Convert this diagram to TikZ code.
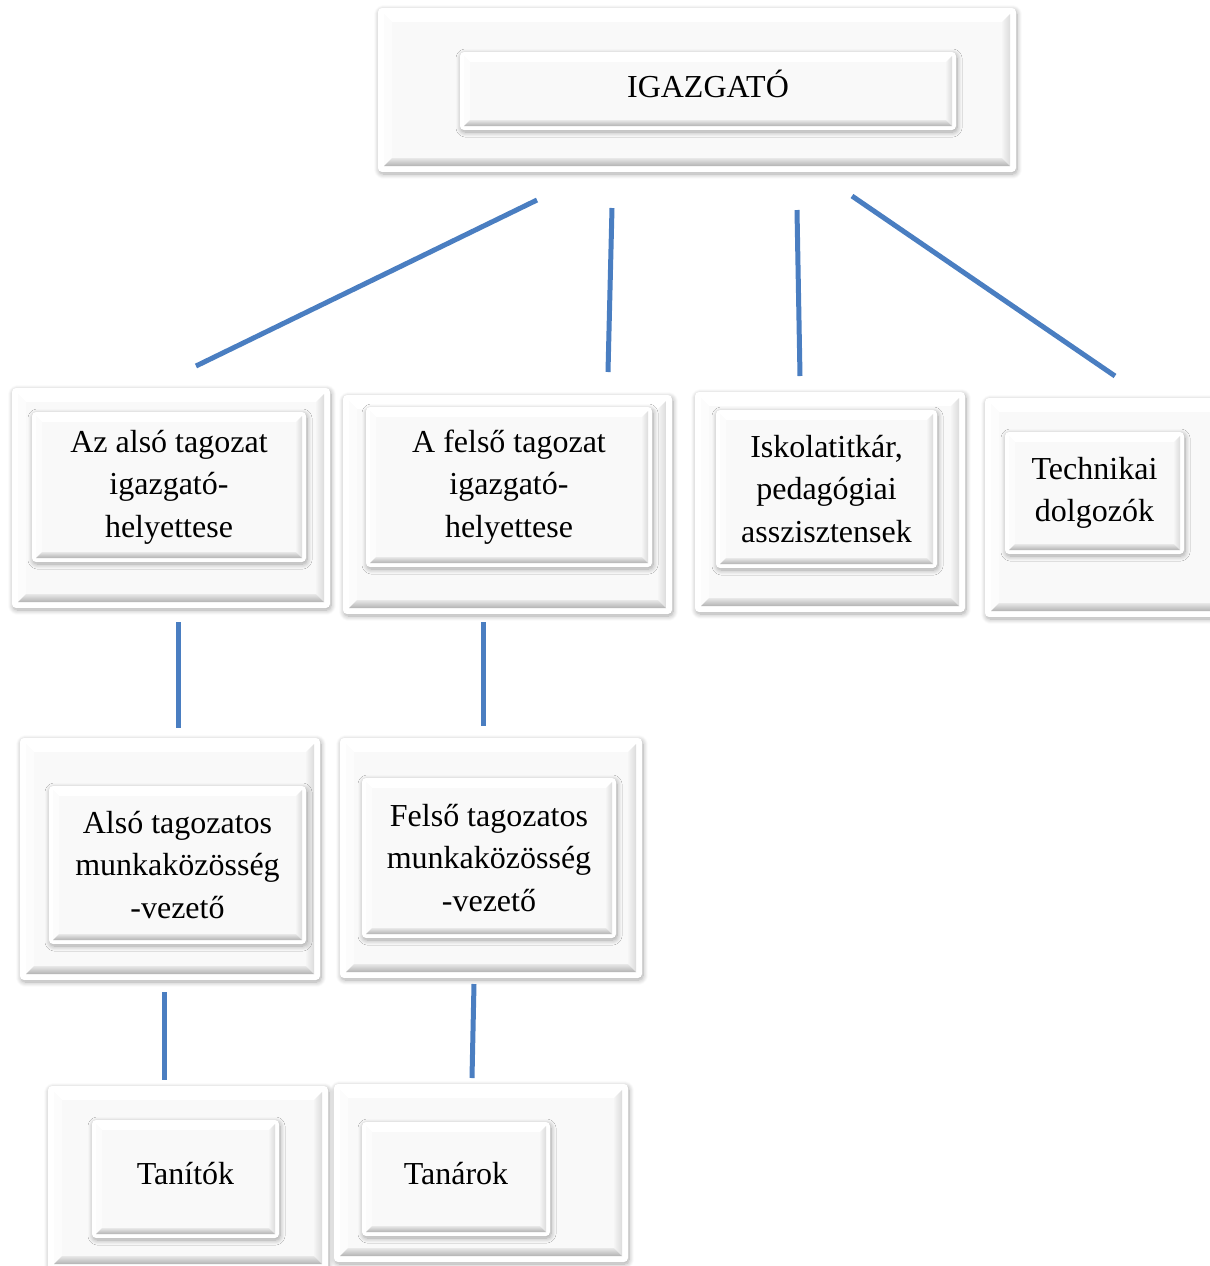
\documentclass[tikz,border=0pt]{standalone}
\usepackage{fontspec}
\setmainfont{Liberation Serif}
\usetikzlibrary{shadows.blur}
\definecolor{linkblue}{RGB}{74,126,193}
\tikzset{
	bevelled/.style 2 args={
		rounded corners=2pt,
		fill=white,
		inner sep=0pt,
		blur shadow={shadow xshift=0.5pt, shadow yshift=-1pt, shadow blur radius=2.5pt, shadow blur steps=8, shadow opacity=35},
		path picture={
			\begin{scope}[sharp corners]
				\path (path picture bounding box.south west) ++(#1,#1) coordinate (pA)
				      (path picture bounding box.north east) ++(-#1,-#1) coordinate (pB)
				      (pA|-pB) coordinate (pC) (pB|-pA) coordinate (pD);
				\fill[gray!5] (pA) rectangle (pB);
				\fill[white] (pC) -- (pB) -- ([shift={(-#2,-#2)}]pB) -- ([shift={(#2,-#2)}]pC) -- cycle;
				\fill[gray!2] (pA) -- (pC) -- ([shift={(#2,-#2)}]pC) -- ([shift={(#2,#2)}]pA) -- cycle;
				\shade[left color=gray!8, right color=gray!28] (pD) -- (pB) -- ([shift={(-#2,-#2)}]pB) -- ([shift={(-#2,#2)}]pD) -- cycle;
				\shade[top color=gray!18, bottom color=gray!60] (pA) -- (pD) -- ([shift={(-#2,#2)}]pD) -- ([shift={(#2,#2)}]pA) -- cycle;
			\end{scope}
		}
	},
	frame/.style={
		bevelled={3pt}{4pt}
	},
	card/.style={
		bevelled={2pt}{3pt},
		align=center,
		font=\fontsize{16}{21.3}\selectfont
	},
	link/.style={
		draw=linkblue,
		line width=2.5pt
	}
}

\begin{document}
\begin{tikzpicture}[x=0.5pt, y=-0.5pt]
			\useasboundingbox (0,0) rectangle (1210,1266);

			% top
			\node(igazgatoframe)[frame, minimum width=319pt, minimum height=82pt] at (697,90){};
			\node(igazgato)[card, minimum width=248pt, minimum height=39pt, text depth=7pt] at (708,91){IGAZGATÓ};

			% second row
			\node(alsohelyframe)[frame, minimum width=159pt, minimum height=110pt] at (171,498){};
			\node(alsohely)[card, minimum width=137pt, minimum height=75pt] at (169,487){Az alsó tagozat\\ igazgató-\\ helyettese};

			\node(felsohelyframe)[frame, minimum width=164.5pt, minimum height=109.5pt] at (507.5,504.5){};
			\node(felsohely)[card, minimum width=143pt, minimum height=80pt] at (509,487){A felső tagozat\\ igazgató-\\ helyettese};

			\node(titkarframe)[frame, minimum width=135pt, minimum height=110pt] at (830,502){};
			\node(titkar)[card, minimum width=110.5pt, minimum height=79pt] at (826.5,489){Iskolatitkár,\\ pedagógiai\\ asszisztensek};

			\node(technikaiframe)[frame, minimum width=120pt, minimum height=109.5pt] at (1105,507.5){};
			\node(technikai)[card, minimum width=89.5pt, minimum height=61pt] at (1094.5,493){Technikai\\ dolgozók};

			% third row
			\node(alsomkframe)[frame, minimum width=150pt, minimum height=121pt] at (170,859){};
			\node(alsomk)[card, minimum width=128.5pt, minimum height=79pt] at (177.5,865){Alsó tagozatos\\ munkaközösség\\ -vezető};

			\node(felsomkframe)[frame, minimum width=151pt, minimum height=120pt] at (491,858){};
			\node(felsomk)[card, minimum width=127pt, minimum height=80pt] at (489,858){Felső tagozatos\\ munkaközösség\\ -vezető};

			% bottom row
			\node(tanitokframe)[frame, minimum width=140pt, minimum height=92pt] at (188,1178){};
			\node(tanitok)[card, minimum width=93.5pt, minimum height=59pt, text depth=6pt] at (185.5,1179){Tanítók};

			\node(tanarokframe)[frame, minimum width=147pt, minimum height=89pt] at (481,1173){};
			\node(tanarok)[card, minimum width=94pt, minimum height=57pt, text depth=6pt] at (456,1179){Tanárok};

			% connectors
			\coordinate(d1top) at (537,200);
			\coordinate(d1bot) at (196,366);
			\coordinate(d2top) at (612,208);
			\coordinate(d2bot) at (608,372);
			\coordinate(d3top) at (797,210);
			\coordinate(d3bot) at (800,376);
			\coordinate(d4top) at (852,196);
			\coordinate(d4bot) at (1115,376);
			\coordinate(a1top) at (178,622);
			\coordinate(a1bot) at (178,728);
			\coordinate(f1top) at (483,622);
			\coordinate(f1bot) at (483,726);
			\coordinate(a2top) at (164,992);
			\coordinate(a2bot) at (164,1080);
			\coordinate(f2top) at (474,984);
			\coordinate(f2bot) at (472,1078);

			\draw[link] (d1top) -- (d1bot);
			\draw[link] (d2top) -- (d2bot);
			\draw[link] (d3top) -- (d3bot);
			\draw[link] (d4top) -- (d4bot);
			\draw[link] (a1top) -- (a1bot);
			\draw[link] (f1top) -- (f1bot);
			\draw[link] (a2top) -- (a2bot);
			\draw[link] (f2top) -- (f2bot);
\end{tikzpicture}
\end{document}
